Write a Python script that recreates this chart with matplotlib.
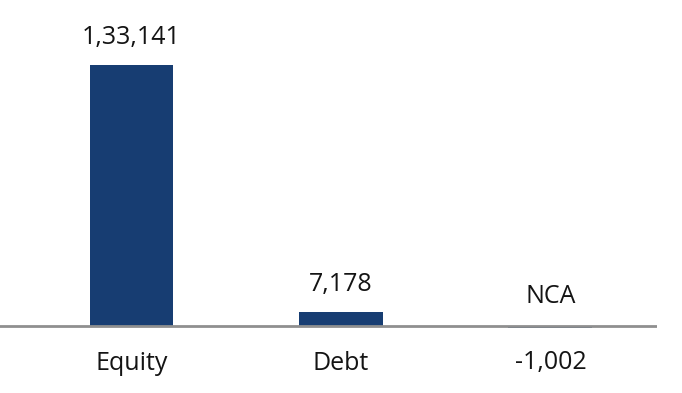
import numpy as np
import matplotlib
matplotlib.use('Agg')
from matplotlib import pyplot as plt

plt.rcParams['font.family'] = ['Open Sans', 'DejaVu Sans']

categories = ['Equity', 'Debt', 'NCA']
values = [133141, 7178, -1002]


def indian_fmt(v):
    # 1,33,141 style grouping
    s = str(abs(int(v)))
    if len(s) > 3:
        head, tail = s[:-3], s[-3:]
        parts = []
        while len(head) > 2:
            parts.insert(0, head[-2:])
            head = head[:-2]
        if head:
            parts.insert(0, head)
        s = ','.join(parts) + ',' + tail
    return ('-' if v < 0 else '') + s


fig = plt.figure(figsize=(6.82, 3.93), dpi=100)
ax = fig.add_axes([0, 0, 0.963, 1])

x = np.arange(len(categories))
ax.bar(x, values, width=0.4, color='#173d72', zorder=2)
ax.axhline(0, color='#8f8f8f', linewidth=2.0, zorder=3)

txt = dict(ha='center', va='baseline', fontsize=18, color='#141414',
           textcoords='offset points')
for xi, cat, v in zip(x, categories, values):
    if v >= 0:
        ax.annotate(indian_fmt(v), (xi, v), xytext=(0, 15), **txt)
        ax.annotate(cat, (xi, 0), xytext=(0, -31.5), **txt)
    else:
        ax.annotate(cat, (xi, 0), xytext=(0, 16.5), **txt)
        ax.annotate(indian_fmt(v), (xi, 0), xytext=(0, -31), **txt)

ax.set_xlim(-0.628, 2.508)
ax.set_ylim(-34178, 166299)
ax.axis('off')

plt.savefig('out.png', dpi=100)
